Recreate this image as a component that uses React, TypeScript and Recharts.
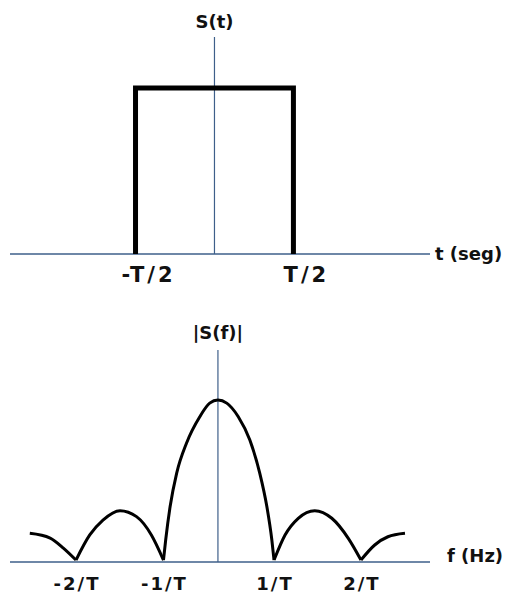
import { LineChart, Line, XAxis, YAxis, ReferenceLine } from 'recharts';

// Pulso rectangular s(t)
const PULSE_T = [-1, -1, 1, 1];
const PULSE_S = [0, 1, 1, 0];
const TIME_TICKS = [-1, 1];
const TIME_TICK_LABELS = ['-T/2', 'T/2'];

// Espectro |S(f)|, un tramo por lóbulo
const OUTER_LEFT_F = [-3.42, -3.05, -2.81, -2.58];
const OUTER_LEFT_V = [0.177, 0.148, 0.086, 0.012];
const LOBE_LEFT_F = [-2.58, -2.33, -2.09, -1.78, -1.48, -1.21, -0.99];
const LOBE_LEFT_V = [0.012, 0.167, 0.259, 0.317, 0.28, 0.167, 0.012];
const MAIN_F = [-0.99, -0.95, -0.87, -0.75, -0.57, -0.33, -0.15, 0, 0.16, 0.37, 0.58, 0.76, 0.89, 0.98, 1.02];
const MAIN_V = [0.012, 0.136, 0.341, 0.549, 0.735, 0.897, 0.981, 1, 0.981, 0.897, 0.753, 0.549, 0.341, 0.136, 0.012];
const LOBE_RIGHT_F = [1.02, 1.22, 1.46, 1.76, 2.07, 2.37, 2.6];
const LOBE_RIGHT_V = [0.012, 0.167, 0.27, 0.317, 0.27, 0.146, 0.012];
const OUTER_RIGHT_F = [2.6, 2.85, 3.09, 3.4];
const OUTER_RIGHT_V = [0.012, 0.105, 0.156, 0.177];
const FREQ_TICKS = [-2.58, -0.99, 1.02, 2.6];
const FREQ_TICK_LABELS = ['-2/T', '-1/T', '1/T', '2/T'];

const AXIS_COLOR = '#3e5f8a';
const FONT = '"DejaVu Sans", Verdana, sans-serif';

const toPoints = (xs: number[], ys: number[]) => xs.map((x, i) => ({ x, y: ys[i] }));

const pulseData = toPoints(PULSE_T, PULSE_S);
const lobes = [
  toPoints(OUTER_LEFT_F, OUTER_LEFT_V),
  toPoints(LOBE_LEFT_F, LOBE_LEFT_V),
  toPoints(MAIN_F, MAIN_V),
  toPoints(LOBE_RIGHT_F, LOBE_RIGHT_V),
  toPoints(OUTER_RIGHT_F, OUTER_RIGHT_V),
];

function makeTick(ticks: number[], labels: string[], dx: number, fontSize: number, spacing: number) {
  return (props: any) => {
    const { x, y, payload } = props;
    const idx = ticks.indexOf(payload.value);
    return (
      <text
        x={x + dx}
        y={y + 28}
        textAnchor="middle"
        fontFamily={FONT}
        fontWeight="bold"
        fontSize={fontSize}
        letterSpacing={spacing}
        fill="#111"
      >
        {idx >= 0 ? labels[idx] : ''}
      </text>
    );
  };
}

const labelStyle = { fill: '#111', fontSize: 18, fontWeight: 'bold', fontFamily: FONT };

export default function App() {
  return (
    <div style={{ position: 'absolute', left: 0, top: 0, width: 506, height: 595, background: '#fff' }}>
      <LineChart width={506} height={290} data={pulseData} margin={{ top: 37, right: 76, left: 10, bottom: 6 }}>
        <XAxis
          type="number"
          dataKey="x"
          domain={[-2.59, 2.73]}
          ticks={TIME_TICKS}
          axisLine={false}
          tickLine={false}
          tickSize={0}
          tickMargin={0}
          height={30}
          allowDataOverflow
          tick={makeTick(TIME_TICKS, TIME_TICK_LABELS, 13, 21, 3)}
        />
        <YAxis hide type="number" domain={[0, 1.307]} allowDataOverflow />
        <ReferenceLine
          y={0}
          stroke={AXIS_COLOR}
          strokeWidth={1.5}
          label={{ value: 't (seg)', position: 'right', offset: 5, ...labelStyle }}
        />
        <ReferenceLine
          x={0}
          stroke={AXIS_COLOR}
          strokeWidth={1.2}
          label={{ value: 'S(t)', position: 'top', offset: 9, ...labelStyle }}
        />
        <Line
          type="linear"
          dataKey="y"
          stroke="#000"
          strokeWidth={5}
          strokeLinejoin="miter"
          dot={false}
          activeDot={false}
          isAnimationActive={false}
        />
      </LineChart>
      <LineChart width={506} height={305} margin={{ top: 60, right: 76, left: 10, bottom: 3 }}>
        <XAxis
          type="number"
          dataKey="x"
          domain={[-3.78, 3.855]}
          ticks={FREQ_TICKS}
          axisLine={false}
          tickLine={false}
          tickSize={0}
          tickMargin={0}
          height={30}
          allowDataOverflow
          tick={makeTick(FREQ_TICKS, FREQ_TICK_LABELS, 1, 18, 2)}
        />
        <YAxis hide type="number" domain={[0, 1.309]} allowDataOverflow />
        <ReferenceLine
          y={0}
          stroke={AXIS_COLOR}
          strokeWidth={1.5}
          label={{ value: 'f (Hz)', position: 'right', offset: 17, dy: -6, ...labelStyle }}
        />
        <ReferenceLine
          x={0}
          stroke={AXIS_COLOR}
          strokeWidth={1.2}
          label={{ value: '|S(f)|', position: 'top', offset: 11, ...labelStyle }}
        />
        {lobes.map((lobe, i) => (
          <Line
            key={i}
            data={lobe}
            type="monotone"
            dataKey="y"
            stroke="#000"
            strokeWidth={3}
            dot={false}
            activeDot={false}
            isAnimationActive={false}
          />
        ))}
      </LineChart>
    </div>
  );
}
